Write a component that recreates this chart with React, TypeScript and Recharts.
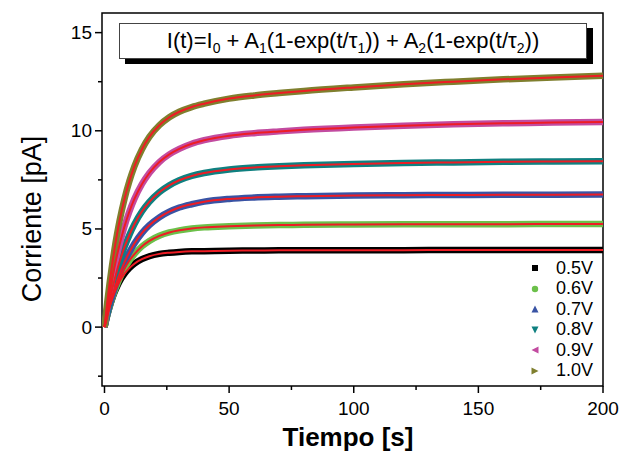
import { LineChart, Line, XAxis, YAxis, ReferenceArea } from 'recharts'

// time axis (s) and current (pA) for each bias
const time = [0, 1, 2, 3, 4, 5, 6, 8, 10, 12, 15, 18, 22, 26, 30, 35, 40, 50, 60, 70, 80, 100, 120, 140, 160, 180, 200]
const v05 = [0, 0.55, 1.01, 1.41, 1.76, 2.05, 2.31, 2.71, 3.01, 3.23, 3.46, 3.61, 3.73, 3.79, 3.83, 3.86, 3.87, 3.89, 3.9, 3.91, 3.91, 3.92, 3.92, 3.93, 3.93, 3.93, 3.93]
const v06 = [0, 0.53, 1.0, 1.43, 1.8, 2.14, 2.45, 2.97, 3.39, 3.72, 4.11, 4.39, 4.65, 4.82, 4.93, 5.02, 5.08, 5.14, 5.18, 5.2, 5.21, 5.23, 5.24, 5.24, 5.24, 5.25, 5.25]
const v07 = [0, 0.55, 1.06, 1.52, 1.94, 2.33, 2.68, 3.3, 3.82, 4.26, 4.79, 5.19, 5.59, 5.88, 6.09, 6.26, 6.39, 6.53, 6.6, 6.64, 6.67, 6.71, 6.72, 6.73, 6.74, 6.74, 6.75]
const v08 = [0, 0.68, 1.3, 1.87, 2.39, 2.87, 3.3, 4.07, 4.7, 5.24, 5.89, 6.38, 6.87, 7.22, 7.48, 7.7, 7.85, 8.03, 8.13, 8.19, 8.24, 8.31, 8.36, 8.39, 8.42, 8.44, 8.45]
const v09 = [0, 0.88, 1.67, 2.4, 3.05, 3.64, 4.18, 5.12, 5.89, 6.53, 7.28, 7.85, 8.41, 8.8, 9.08, 9.34, 9.52, 9.75, 9.88, 9.97, 10.05, 10.17, 10.26, 10.33, 10.38, 10.42, 10.45]
const v10 = [0, 1.16, 2.19, 3.12, 3.96, 4.71, 5.38, 6.52, 7.44, 8.19, 9.05, 9.69, 10.28, 10.69, 10.97, 11.21, 11.38, 11.64, 11.8, 11.92, 12.03, 12.21, 12.37, 12.5, 12.62, 12.72, 12.8]

const labels = ['0.5V', '0.6V', '0.7V', '0.8V', '0.9V', '1.0V']
const colors = ['#000000', '#6cc04a', '#3953a4', '#0f8080', '#c24ba0', '#7f7f2e']
const shapes = ['square', 'circle', 'up', 'down', 'left', 'right']

const xTicks = [0, 25, 50, 75, 100, 125, 150, 175, 200]
const yTicks = [-2.5, 0, 2.5, 5, 7.5, 10, 12.5, 15]
const xDomain = [-1, 200]
const yDomain = [-3, 16]

const keys = ['v05', 'v06', 'v07', 'v08', 'v09', 'v10']
const columns = [v05, v06, v07, v08, v09, v10]
const data = time.map((t, i) => {
  const row: Record<string, number> = { t }
  keys.forEach((k, j) => (row[k] = columns[j][i]))
  return row
})

const font = '"Liberation Sans", Arial, sans-serif'
const fitColor = '#ee1c24'

function XTick(props: any) {
  const { x, y, payload } = props
  const major = payload.value % 50 === 0
  return (
    <g>
      <line x1={x} x2={x} y1={y} y2={y + (major ? 7 : 4)} stroke="#000" strokeWidth={1.5} />
      {major && (
        <text x={x} y={y + 22} textAnchor="middle" dominantBaseline="central" fontFamily={font} fontSize={19} fill="#000">
          {payload.value}
        </text>
      )}
    </g>
  )
}

function YTick(props: any) {
  const { x, y, payload } = props
  const major = payload.value % 5 === 0
  return (
    <g>
      <line x1={x - (major ? 7 : 4)} x2={x} y1={y} y2={y} stroke="#000" strokeWidth={1.5} />
      {major && (
        <text x={x - 10} y={y} textAnchor="end" dominantBaseline="central" fontFamily={font} fontSize={19} fill="#000">
          {payload.value}
        </text>
      )}
    </g>
  )
}

function Marker({ shape, color }: { shape: string; color: string }) {
  const s = 3.5
  let el
  if (shape === 'square') el = <rect x={-3} y={-3} width={6} height={6} fill={color} />
  else if (shape === 'circle') el = <circle r={3.2} fill={color} />
  else if (shape === 'up') el = <polygon points={`0,${-s} ${s},${s} ${-s},${s}`} fill={color} />
  else if (shape === 'down') el = <polygon points={`0,${s} ${s},${-s} ${-s},${-s}`} fill={color} />
  else if (shape === 'left') el = <polygon points={`${-s},0 ${s},${-s} ${s},${s}`} fill={color} />
  else el = <polygon points={`${s},0 ${-s},${-s} ${-s},${s}`} fill={color} />
  return (
    <svg width={10} height={10} style={{ display: 'block' }}>
      <g transform="translate(5,5)">{el}</g>
    </svg>
  )
}

export default function App() {
  return (
    <div style={{ position: 'absolute', left: 0, top: 0, width: 623, height: 456, background: '#fff' }}>
      <LineChart width={623} height={456} data={data} margin={{ top: 13, right: 20, left: 0, bottom: 0 }}>
        <XAxis
          dataKey="t"
          type="number"
          domain={xDomain}
          ticks={xTicks}
          allowDataOverflow
          height={70}
          tickSize={0}
          tickMargin={0}
          tickLine={false}
          axisLine={false}
          tick={<XTick />}
        />
        <YAxis
          type="number"
          domain={yDomain}
          ticks={yTicks}
          allowDataOverflow
          width={102}
          tickSize={0}
          tickMargin={0}
          tickLine={false}
          axisLine={false}
          tick={<YTick />}
        />
        {keys.map((k, j) => (
          <Line
            key={k}
            dataKey={k}
            type="monotone"
            stroke={colors[j]}
            strokeWidth={6.5}
            dot={false}
            isAnimationActive={false}
          />
        ))}
        {keys.map((k) => (
          <Line
            key={'fit-' + k}
            dataKey={k}
            type="monotone"
            stroke={fitColor}
            strokeWidth={2}
            dot={false}
            isAnimationActive={false}
          />
        ))}
        <ReferenceArea
          x1={xDomain[0]}
          x2={xDomain[1]}
          y1={yDomain[0]}
          y2={yDomain[1]}
          fill="none"
          fillOpacity={0}
          stroke="#000"
          strokeWidth={1.5}
          ifOverflow="visible"
        />
      </LineChart>

      {/* axis titles */}
      <svg width={623} height={456} style={{ position: 'absolute', left: 0, top: 0, pointerEvents: 'none' }}>
        <text
          transform="translate(32,219) rotate(-90)"
          textAnchor="middle"
          dominantBaseline="central"
          fontFamily={font}
          fontSize={27}
          fill="#000"
        >
          Corriente [pA]
        </text>
        <text x={348} y={437} textAnchor="middle" dominantBaseline="central" fontFamily={font} fontSize={26} fontWeight="bold" fill="#000">
          Tiempo [s]
        </text>
      </svg>

      {/* equation box */}
      <div
        style={{
          position: 'absolute',
          left: 119,
          top: 23,
          width: 466,
          height: 34,
          border: '1px solid #444',
          background: '#fff',
          boxShadow: '6px 5px 0 #000',
          fontFamily: font,
          fontSize: 22,
          lineHeight: '34px',
          textAlign: 'center',
          color: '#000',
          whiteSpace: 'nowrap',
        }}
      >
        I(t)=I<sub style={{ fontSize: 14 }}>0</sub> + A<sub style={{ fontSize: 14 }}>1</sub>(1-exp(t/τ<sub style={{ fontSize: 14 }}>1</sub>)) + A
        <sub style={{ fontSize: 14 }}>2</sub>(1-exp(t/τ<sub style={{ fontSize: 14 }}>2</sub>))
      </div>

      {/* legend */}
      <div style={{ position: 'absolute', left: 530, top: 258, fontFamily: font, fontSize: 18, color: '#000' }}>
        {labels.map((l, j) => (
          <div key={l} style={{ display: 'flex', alignItems: 'center', height: 20.5 }}>
            <Marker shape={shapes[j]} color={colors[j]} />
            <span style={{ marginLeft: 16 }}>{l}</span>
          </div>
        ))}
      </div>
    </div>
  )
}
